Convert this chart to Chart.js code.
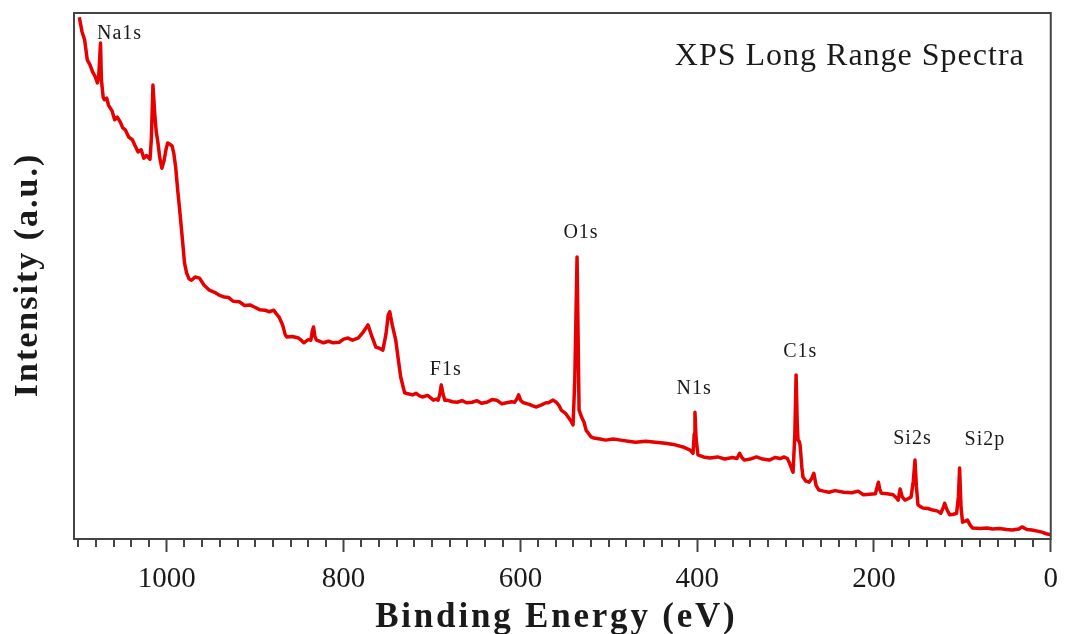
<!DOCTYPE html>
<html>
<head>
<meta charset="utf-8">
<title>XPS Long Range Spectra</title>
<script src="https://cdn.jsdelivr.net/npm/chart.js@4.4.0/dist/chart.umd.min.js"></script>
<style>
  html, body { margin: 0; padding: 0; background: #fff; }
  #wrap { width: 1068px; height: 634px; }
</style>
</head>
<body>
<div id="wrap"><canvas id="xpsChart" width="1068" height="634"></canvas></div>
<script>
// binding energy (eV) and intensity (a.u., 0-100 scale)
const energy = [
  1099, 1096, 1093, 1090, 1087, 1084, 1081, 1078.5, 1077, 1075,
  1074, 1072, 1070.6, 1068, 1066, 1062, 1059, 1056, 1052.7, 1050,
  1047, 1043, 1039, 1036, 1032.5, 1029, 1026, 1023, 1019, 1017.5,
  1015.7, 1013.5, 1012, 1010, 1008, 1005.6, 1003, 1001, 999, 996,
  994, 992, 990, 987.5, 985.4, 982, 980, 977.6, 975, 972,
  968, 963, 958, 951.8, 946, 940, 935, 930, 925, 918,
  912, 906, 901, 895, 889, 884, 879, 876, 873, 869,
  866, 864, 858, 851, 848, 845, 840, 837, 835.5, 834,
  832.5, 830.7, 827, 823, 817, 811.7, 805, 800, 795, 790,
  783.6, 778, 772.4, 768, 763.5, 760, 755.6, 752, 749.5, 747.8,
  745, 741, 738, 735.4, 731, 727, 722, 718, 714, 710.8,
  705, 698.4, 695, 693, 691, 689.5, 687.5, 685.5, 682.7, 677,
  671.5, 666, 661, 654.7, 649, 644, 637.9, 632, 626.7, 621,
  615.5, 610, 606.5, 604, 602, 599.5, 596.4, 590, 586, 581.8,
  576, 571, 568.4, 563, 559.4, 556, 553.8, 549, 546, 543,
  540.4, 538.5, 535.9, 534.2, 533.6, 530.3, 528, 525.5, 523.5, 520,
  516.8, 510, 503.4, 495, 486.5, 478, 469.7, 458, 447.3, 436,
  424.9, 416, 408, 404.7, 403.3, 402.5, 401.2, 399.1, 393, 385.7,
  377, 368.8, 360, 355, 352, 349, 346.4, 340, 333, 326,
  318.4, 312, 306, 301.6, 298, 296, 293.5, 291.5, 289.5, 288.1,
  286.8, 285.9, 284.5, 283.6, 281.5, 280.3, 277, 273.5, 270.5, 268,
  265.5, 262.3, 257, 251, 244, 234.3, 225, 218, 211.9, 205,
  198.4, 196.5, 195, 193.5, 191.7, 185, 178.3, 175, 172.6, 170.4,
  168, 164.9, 161, 158, 155.5, 153.6, 152, 150.2, 147, 144.6,
  139, 133.4, 128, 124.4, 122, 120, 117.5, 114.3, 110, 106.5,
  104.5, 103.1, 101.5, 99.8, 97, 94.2, 91, 88.6, 80, 72,
  66.1, 58, 50, 43.7, 36, 32.5, 27, 21.3, 15, 10.1,
  5, 0
];
const intensity = [
  99.2, 96.5, 94.9, 91.1, 90.2, 88.8, 87.9, 86.7, 88.0, 94.3,
  87.3, 84.0, 83.5, 83.8, 82.5, 81.4, 79.7, 80.2, 79.3, 78.2,
  77.8, 76.4, 75.9, 74.8, 73.6, 74.0, 72.4, 72.9, 72.2, 76.0,
  86.3, 80.5, 77.5, 75.3, 72.5, 70.5, 72.0, 74.0, 75.3, 75.0,
  74.7, 73.2, 70.7, 66.0, 62.5, 56.3, 52.5, 50.6, 49.5, 49.2,
  49.8, 49.6, 48.3, 47.3, 46.9, 46.3, 46.0, 45.9, 45.2, 45.1,
  44.4, 44.5, 44.1, 43.6, 43.5, 43.2, 43.5, 42.8, 42.2, 40.7,
  38.8, 38.4, 38.5, 38.2, 37.8, 37.3, 37.9, 37.8, 39.5, 40.3,
  38.5, 37.8, 37.6, 37.3, 37.6, 37.3, 37.4, 38.0, 38.2, 37.8,
  38.2, 39.3, 40.7, 38.5, 36.5, 36.3, 35.9, 39.0, 42.6, 43.2,
  40.7, 37.8, 34.0, 30.8, 27.8, 27.6, 27.4, 27.7, 27.2, 27.0,
  27.3, 26.4, 26.6, 26.4, 27.6, 29.3, 27.5, 26.4, 26.4, 26.1,
  26.0, 26.3, 25.9, 26.0, 26.3, 25.8, 26.0, 26.5, 26.4, 25.7,
  25.9, 26.1, 26.0, 26.6, 27.4, 26.3, 25.9, 25.6, 25.3, 25.1,
  25.5, 25.9, 25.9, 26.4, 26.0, 25.3, 24.5, 23.9, 23.2, 22.5,
  21.7, 30.0, 53.6, 32.0, 24.5, 23.0, 22.2, 20.6, 20.2, 19.4,
  19.2, 19.0, 18.8, 19.0, 18.8, 18.6, 18.4, 18.6, 18.4, 18.2,
  17.9, 17.5, 16.9, 16.3, 20.0, 24.1, 19.0, 16.0, 15.6, 15.4,
  15.6, 15.2, 15.5, 15.3, 16.3, 15.4, 15.0, 15.2, 15.6, 15.2,
  15.0, 15.5, 15.3, 15.6, 15.3, 14.6, 13.5, 12.7, 20.0, 31.2,
  22.0, 18.8, 18.5, 17.9, 13.5, 11.8, 11.0, 10.8, 11.5, 12.5,
  10.2, 9.3, 9.1, 8.9, 9.2, 8.9, 8.8, 9.1, 8.4, 8.5,
  8.6, 9.8, 10.8, 9.5, 8.7, 8.6, 8.4, 7.9, 7.4, 9.5,
  8.0, 7.4, 7.7, 8.0, 11.0, 15.0, 10.0, 6.5, 6.1, 5.9,
  5.8, 5.5, 5.3, 4.9, 5.8, 6.8, 5.6, 4.6, 4.7, 4.9,
  8.0, 13.5, 6.0, 3.2, 3.4, 3.6, 2.6, 2.1, 2.0, 2.1,
  1.9, 2.0, 1.8, 1.7, 1.9, 2.3, 1.8, 1.7, 1.5, 1.3,
  1.0, 0.8
];

// peak annotations (label text and where it sits in data space)
const peakNames = ["Na1s", "O1s", "F1s", "N1s", "C1s", "Si2s", "Si2p"];
const peakLabelEnergy = [1054, 532, 685, 404, 284, 157, 75];
const peakLabelIntensity = [96, 58.2, 32.1, 28.5, 35.6, 19, 18.8];

const xMin = 0, xMax = 1105;
const majorStep = 200, minorStep = 20;

const serif = '"Liberation Serif", "Times New Roman", serif';
const textColor = "#1a1a1a";
const axisColor = "#444";

const decorations = {
  id: "decorations",
  afterDatasetsDraw(chart) {
    const { ctx, chartArea: a, scales: { x, y } } = chart;
    ctx.save();

    // minor ticks
    ctx.strokeStyle = axisColor;
    ctx.lineWidth = 2;
    for (let v = xMin; v <= xMax; v += minorStep) {
      if (v % majorStep === 0) continue;
      const px = Math.round(x.getPixelForValue(v));
      ctx.beginPath();
      ctx.moveTo(px, a.bottom);
      ctx.lineTo(px, a.bottom + 8);
      ctx.stroke();
    }

    // frame
    ctx.strokeRect(a.left, a.top, a.right - a.left, a.bottom - a.top);

    // peak labels
    ctx.fillStyle = textColor;
    ctx.font = "20px " + serif;
    ctx.letterSpacing = "1px";
    ctx.textAlign = "center";
    ctx.textBaseline = "middle";
    peakNames.forEach((name, i) => {
      ctx.fillText(name, x.getPixelForValue(peakLabelEnergy[i]) + 0.5, y.getPixelForValue(peakLabelIntensity[i]));
    });

    // title inside the plot
    ctx.font = "32px " + serif;
    ctx.textAlign = "right";
    ctx.textBaseline = "alphabetic";
    ctx.fillText("XPS Long Range Spectra", a.right - 26, a.top + 52);

    // axis titles
    ctx.font = "bold 35px " + serif;
    ctx.letterSpacing = "2.8px";
    ctx.textAlign = "center";
    ctx.fillText("Binding Energy (eV)", (a.left + a.right) / 2 - 6, 627);

    ctx.font = "bold 34px " + serif;
    ctx.letterSpacing = "2px";
    ctx.translate(37, (a.top + a.bottom) / 2);
    ctx.rotate(-Math.PI / 2);
    ctx.fillText("Intensity (a.u.)", 1, 0);

    ctx.restore();
  }
};

const points = energy.map((e, i) => ({ x: e, y: intensity[i] }));

new Chart(document.getElementById("xpsChart"), {
  type: "line",
  data: {
    datasets: [{
      label: "XPS survey",
      data: points,
      borderColor: "#e60000",
      borderWidth: 3.5,
      borderJoinStyle: "round",
      pointRadius: 0,
      tension: 0,
      fill: false
    }]
  },
  options: {
    responsive: false,
    animation: false,
    layout: { padding: { top: 13, right: 8, left: 0, bottom: 0 } },
    plugins: {
      legend: { display: false },
      tooltip: { enabled: false },
      title: { display: false }
    },
    scales: {
      x: {
        type: "linear",
        reverse: true,
        min: xMin,
        max: xMax,
        afterFit: s => { s.height = 95; },
        border: { display: false },
        grid: {
          drawOnChartArea: false,
          tickLength: 13,
          tickWidth: 2,
          tickColor: axisColor
        },
        ticks: {
          stepSize: majorStep,
          includeBounds: false,
          autoSkip: false,
          maxRotation: 0,
          padding: 10,
          color: textColor,
          font: { family: serif, size: 29 },
          callback: v => String(v)
        }
      },
      y: {
        min: 0,
        max: 100,
        afterFit: s => { s.width = 74; },
        border: { display: false },
        grid: { display: false },
        ticks: { display: false }
      }
    }
  },
  plugins: [decorations]
});
</script>
</body>
</html>
